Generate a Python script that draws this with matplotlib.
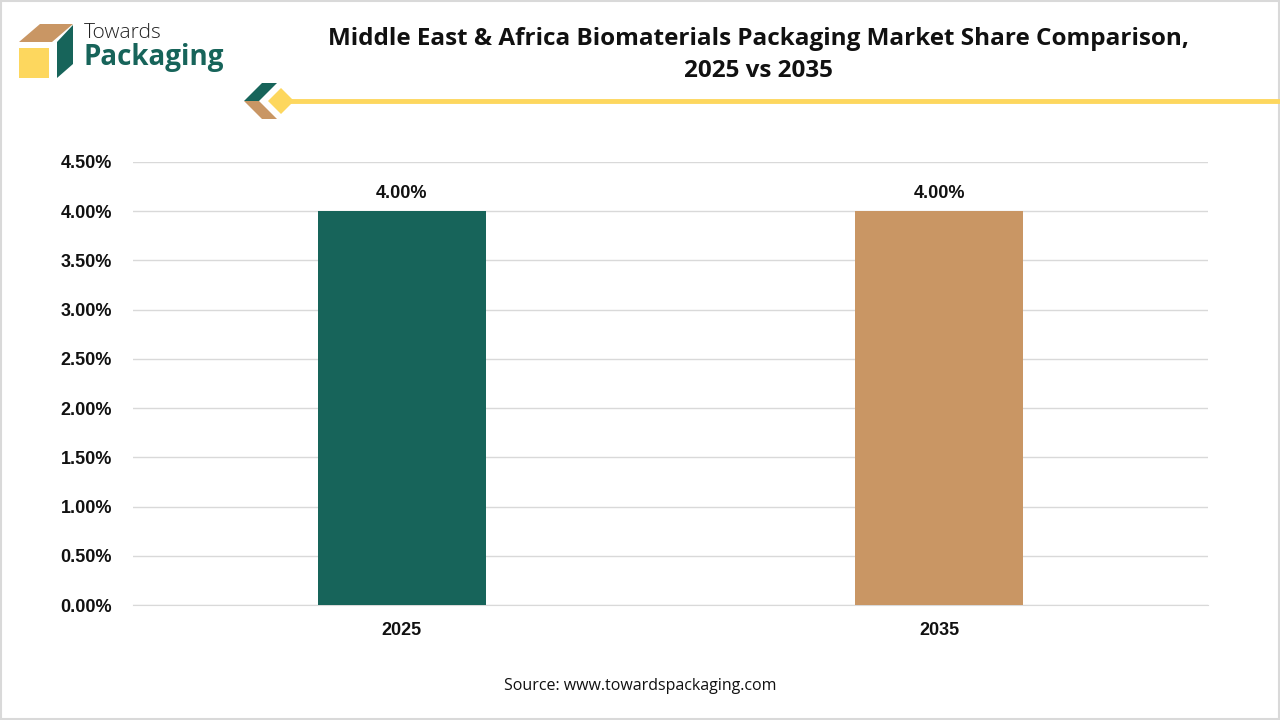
import matplotlib.pyplot as plt
from matplotlib.patches import Polygon, Rectangle
from matplotlib.ticker import FuncFormatter

years = ['2025', '2035']
share = [4.00, 4.00]
bar_colors = ['#17645a', '#c99664']
y_ticks = [0, 0.5, 1.0, 1.5, 2.0, 2.5, 3.0, 3.5, 4.0, 4.5]

W, H = 1280, 720
fig = plt.figure(figsize=(12.8, 7.2), dpi=100)

def px(x, y):
    # pixel coordinates from top-left into figure fraction
    return (x / W, 1 - y / H)

# light border round the picture
fig.patches.append(Rectangle((0.001, 0.001), 0.998, 0.998, transform=fig.transFigure,
                             fill=False, edgecolor='#d9d9d9', linewidth=1.5))

# logo
tan, green, yellow = '#c99664', '#17645a', '#fdd75e'
fig.patches.append(Polygon([px(19, 42), px(40, 24), px(73, 24), px(52, 42)],
                           transform=fig.transFigure, facecolor=tan, edgecolor='none'))
fig.patches.append(Polygon([px(57, 42), px(73, 25), px(73, 64), px(57, 78)],
                           transform=fig.transFigure, facecolor=green, edgecolor='none'))
fig.patches.append(Polygon([px(19, 48), px(49, 48), px(49, 78), px(19, 78)],
                           transform=fig.transFigure, facecolor=yellow, edgecolor='none'))
fig.text(*px(84, 33), 'Towards', fontsize=15, color='#222222', family='Open Sans',
         fontweight='light', va='center', ha='left')
fig.text(*px(84, 58), 'Packaging', fontsize=20, fontweight='bold', color=green,
         family='Open Sans', va='center', ha='left')

# title
fig.text(*px(758, 55), 'Middle East & Africa Biomaterials Packaging Market Share Comparison,\n2025 vs 2035',
         ha='center', va='center', fontsize=17.5, fontweight='bold', family='Open Sans',
         color='#111111', linespacing=1.4)

# header line decoration
fig.lines.append(plt.Line2D([px(285, 0)[0], 1.0], [px(0, 101)[1]] * 2, transform=fig.transFigure,
                            color='#fdd75e', linewidth=3.5))
fig.patches.append(Polygon([px(244, 101), px(262, 83), px(277, 83), px(259, 101)],
                           transform=fig.transFigure, facecolor=green, edgecolor='none'))
fig.patches.append(Polygon([px(244, 101), px(259, 101), px(277, 119), px(262, 119)],
                           transform=fig.transFigure, facecolor=tan, edgecolor='none'))
fig.patches.append(Polygon([px(281, 88), px(294, 101), px(281, 114), px(268, 101)],
                           transform=fig.transFigure, facecolor=yellow, edgecolor='none'))

# chart
ax = fig.add_axes([133 / W, 1 - 605 / H, (1208 - 133) / W, (605 - 162) / H])
x = range(len(years))
bars = ax.bar(x, share, width=0.3125, color=bar_colors, zorder=3)
for b, v in zip(bars, share):
    ax.text(b.get_x() + b.get_width() / 2, v + 0.09, f'{v:.2f}%', ha='center', va='bottom',
            fontsize=13, fontweight='bold', family='Liberation Sans', color='#111111')

ax.set_xlim(-0.5, 1.5)
ax.set_ylim(0, 4.5)
ax.set_yticks(y_ticks)
ax.yaxis.set_major_formatter(FuncFormatter(lambda v, p: f'{v:.2f}%'))
ax.set_xticks(list(x))
ax.set_xticklabels(years)
ax.grid(axis='y', color='#d9d9d9', linewidth=1, zorder=0)
for s in ['top', 'right', 'left']:
    ax.spines[s].set_visible(False)
ax.spines['bottom'].set_color('#d9d9d9')
ax.tick_params(length=0, labelsize=13)
ax.tick_params(axis='y', pad=15)
ax.tick_params(axis='x', pad=12)
for lab in ax.get_xticklabels() + ax.get_yticklabels():
    lab.set_fontweight('bold')
    lab.set_family('Liberation Sans')
    lab.set_color('#111111')

fig.text(*px(640, 686), 'Source: www.towardspackaging.com', ha='center', va='center',
         fontsize=11.5, family='Open Sans', color='#111111')

fig.savefig('out.png', dpi=100)
